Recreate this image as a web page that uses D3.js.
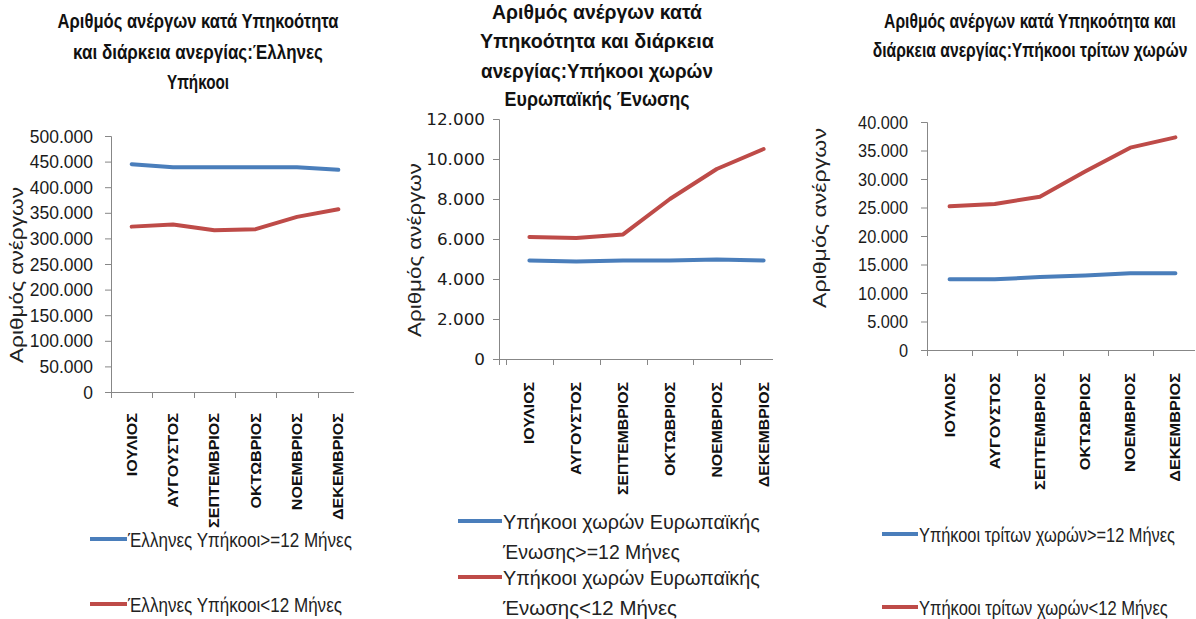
<!DOCTYPE html>
<html>
<head>
<meta charset="utf-8">
<script src="https://cdn.jsdelivr.net/npm/d3@7/dist/d3.min.js"></script>
<style>
  html, body { margin: 0; padding: 0; background: #fff; }
  svg { display: block; }
</style>
</head>
<body>
<svg id="chart" width="1196" height="619"></svg>
<script>
// ---------------- DATA ----------------
const months = ["ΙΟΥΛΙΟΣ", "ΑΥΓΟΥΣΤΟΣ", "ΣΕΠΤΕΜΒΡΙΟΣ", "ΟΚΤΩΒΡΙΟΣ", "ΝΟΕΜΒΡΙΟΣ", "ΔΕΚΕΜΒΡΙΟΣ"];

const greekLong  = [445000, 439000, 439000, 439000, 439000, 434000];
const greekShort = [323000, 327000, 316000, 318000, 342000, 357000];

const euLong  = [4930, 4880, 4920, 4930, 4980, 4930];
const euShort = [6100, 6050, 6230, 8000, 9500, 10500];

const thirdLong  = [12400, 12400, 12800, 13050, 13450, 13450];
const thirdShort = [25200, 25600, 26900, 31300, 35500, 37300];

const ticksGreek = [0, 50000, 100000, 150000, 200000, 250000, 300000, 350000, 400000, 450000, 500000];
const ticksEU    = [0, 2000, 4000, 6000, 8000, 10000, 12000];
const ticksThird = [0, 5000, 10000, 15000, 20000, 25000, 30000, 35000, 40000];

const titleGreek = ["Αριθμός ανέργων κατά Υπηκοότητα", "και διάρκεια ανεργίας:Έλληνες", "Υπήκοοι"];
const titleEU    = ["Αριθμός ανέργων κατά", "Υπηκοότητα και διάρκεια", "ανεργίας:Υπήκοοι χωρών", "Ευρωπαϊκής Ένωσης"];
const titleThird = ["Αριθμός ανέργων κατά Υπηκοότητα και", "διάρκεια ανεργίας:Υπήκοοι τρίτων χωρών"];

const legendGreek = [["Έλληνες Υπήκοοι>=12 Μήνες"], ["Έλληνες Υπήκοοι<12 Μήνες"]];
const legendEU    = [["Υπήκοοι χωρών Ευρωπαϊκής", "Ένωσης>=12 Μήνες"], ["Υπήκοοι χωρών Ευρωπαϊκής", "Ένωσης<12 Μήνες"]];
const legendThird = [["Υπήκοοι τρίτων χωρών>=12 Μήνες"], ["Υπήκοοι τρίτων χωρών<12 Μήνες"]];

const yTitle = "Αριθμός ανέργων";

// ---------------- STYLE ----------------
const BLUE = "#4a7ebb";
const RED = "#be4b48";
const AXIS = "#878787";
const FONT = "'Liberation Sans', Arial, sans-serif";

const locale = d3.formatLocale({ decimal: ",", thousands: ".", grouping: [3], currency: ["", "€"] });
const fmt = locale.format(",d");

const svg = d3.select("#chart");

// place a text and squeeze/stretch it horizontally (along its own direction) to a target length
function fitText(g, str, x, y, target, opts) {
  const t = g.append("text")
    .attr("text-anchor", opts.anchor || "start")
    .style("font-family", opts.family || FONT)
    .style("font-size", opts.size + "px")
    .style("font-weight", opts.weight || "normal")
    .attr("fill", opts.fill || "#222")
    .text(str);
  const len = t.node().getComputedTextLength();
  const s = target ? target / len : (opts.scale || 1);
  t.attr("transform", `translate(${x},${y})${opts.rotate ? " rotate(-90)" : ""} scale(${s},1)`);
  return t;
}

function drawChart(c) {
  const g = svg.append("g");
  const y = d3.scaleLinear().domain([0, c.yMax]).range([c.yBottom, c.yTop]);
  const x = d3.scaleBand().domain(months).range([c.xStart, c.xEnd]);

  // Y axis
  const ya = g.append("g")
    .attr("transform", `translate(${c.axisX},0)`)
    .call(d3.axisLeft(y).tickValues(c.ticks).tickSize(6).tickPadding(c.tickPad).tickFormat(fmt));
  ya.select(".domain").attr("stroke", AXIS);
  ya.selectAll(".tick line").attr("stroke", AXIS);
  ya.selectAll(".tick text")
    .attr("fill", "#1a1a1a")
    .style("font-family", c.tickFont)
    .style("font-size", c.tickSize + "px")
    .attr("x", 0)
    .attr("transform", `translate(${-(6 + c.tickPad)},0) scale(${c.tickScale},1)`);

  // y-axis extension below the x axis
  g.append("line")
    .attr("x1", c.axisX + 0.5).attr("x2", c.axisX + 0.5)
    .attr("y1", c.yBottom).attr("y2", c.yBottom + 6)
    .attr("stroke", AXIS);

  // X axis line
  g.append("line")
    .attr("x1", c.axisX - 6).attr("x2", c.xLineEnd)
    .attr("y1", c.yBottom + 0.5).attr("y2", c.yBottom + 0.5)
    .attr("stroke", AXIS);

  // X ticks at category boundaries
  g.selectAll(".xt").data(months).enter().append("line")
    .attr("x1", d => Math.round(x(d)) + 0.5).attr("x2", d => Math.round(x(d)) + 0.5)
    .attr("y1", c.yBottom).attr("y2", c.yBottom + 6)
    .attr("stroke", AXIS);

  // X labels (rotated); scale factor derived from the longest label's target length
  const probe = g.append("text")
    .style("font-family", FONT).style("font-weight", "bold").style("font-size", "15px")
    .text(months[2]);
  const lblScale = c.labelLen / probe.node().getComputedTextLength();
  probe.remove();
  months.forEach(m => {
    fitText(g, m, x(m) + x.bandwidth() / 2 + 5, c.labelTop, null,
      { anchor: "end", size: 15, weight: "bold", rotate: true, scale: lblScale, fill: "#111" });
  });

  // Lines
  const line = d3.line()
    .x((d, i) => x(months[i]) + x.bandwidth() / 2)
    .y(d => y(d));
  [[c.long, BLUE], [c.short, RED]].forEach(([s, col]) => {
    g.append("path")
      .datum(s)
      .attr("d", line)
      .attr("fill", "none")
      .attr("stroke", col)
      .attr("stroke-width", 4)
      .attr("stroke-linecap", "round")
      .attr("stroke-linejoin", "round");
  });

  // Y title
  fitText(g, yTitle, c.yTitleX, c.yTitleY, c.yTitleLen, { anchor: "middle", size: 18, rotate: true });

  // Title
  c.title.forEach((t, i) => {
    fitText(g, t, c.titleX, c.titleBase[i], c.titleLen[i],
      { anchor: "middle", size: 20, weight: "bold", fill: "#111" });
  });

  // Legend
  c.legend.forEach((lines, k) => {
    const col = k === 0 ? BLUE : RED;
    const ly = c.legendY[k];
    g.append("line")
      .attr("x1", c.legendX1).attr("x2", c.legendX2)
      .attr("y1", ly).attr("y2", ly)
      .attr("stroke", col).attr("stroke-width", 4);
    lines.forEach((t, j) => {
      fitText(g, t, c.legendX2 + 1, ly + 8 + j * c.legendLineH, c.legendLen[k][j], { size: 20 });
    });
  });
}

drawChart({
  long: greekLong, short: greekShort, yMax: 500000, ticks: ticksGreek,
  yBottom: 392, yTop: 136, axisX: 111, xStart: 111, xEnd: 359, xLineEnd: 354,
  tickPad: 12, tickFont: FONT, tickSize: 19, tickScale: 0.92,
  labelTop: 413, labelLen: 115,
  yTitleX: 23, yTitleY: 275, yTitleLen: 176,
  title: titleGreek, titleX: 198, titleBase: [28, 59, 89], titleLen: [281, 250, 62],
  legend: legendGreek, legendX1: 90, legendX2: 127, legendY: [539, 604], legendLineH: 30,
  legendLen: [[224], [214]]
});

drawChart({
  long: euLong, short: euShort, yMax: 12000, ticks: ticksEU,
  yBottom: 359, yTop: 119, axisX: 499, xStart: 506, xEnd: 787, xLineEnd: 773,
  tickPad: 8, tickFont: "'DejaVu Sans', sans-serif", tickSize: 16, tickScale: 1.05,
  labelTop: 382, labelLen: 113,
  yTitleX: 421, yTitleY: 250, yTitleLen: 174,
  title: titleEU, titleX: 597, titleBase: [19, 48, 78, 106], titleLen: [210, 234, 232, 185],
  legend: legendEU, legendX1: 458, legendX2: 502, legendY: [521, 577], legendLineH: 30,
  legendLen: [[257, 177], [257, 174]]
});

drawChart({
  long: thirdLong, short: thirdShort, yMax: 40000, ticks: ticksThird,
  yBottom: 350, yTop: 122, axisX: 927, xStart: 927, xEnd: 1198, xLineEnd: 1195,
  tickPad: 13, tickFont: FONT, tickSize: 19, tickScale: 0.86,
  labelTop: 373, labelLen: 117,
  yTitleX: 826, yTitleY: 218, yTitleLen: 180,
  title: titleThird, titleX: 1030, titleBase: [28, 57], titleLen: [292, 315],
  legend: legendThird, legendX1: 882, legendX2: 918, legendY: [534, 607], legendLineH: 30,
  legendLen: [[256], [249]]
});
</script>
</body>
</html>
